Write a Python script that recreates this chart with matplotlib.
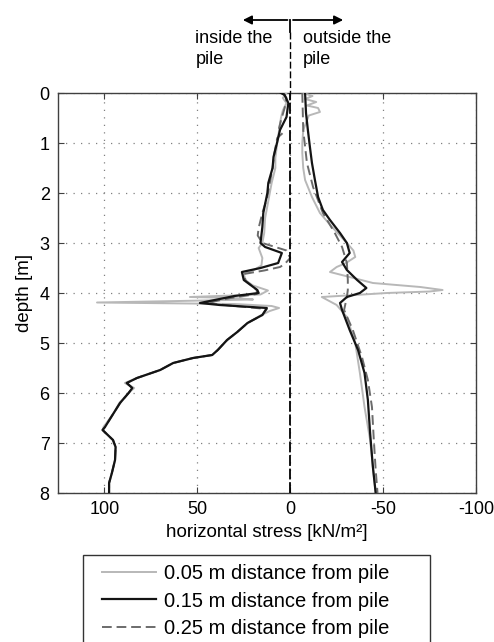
import numpy as np
import matplotlib.pyplot as plt
from matplotlib.patches import Rectangle

plt.rcParams['font.family'] = ['Liberation Sans', 'DejaVu Sans']
plt.rcParams['axes.unicode_minus'] = False

# ---- data (depth [m], horizontal stress [kN/m2]) ----
# 0.05 m distance from pile
d05_in = [0.0, 0.1, 0.2, 0.35, 0.5, 0.75, 1.0, 1.3, 1.5, 1.8, 2.0, 2.3, 2.5, 2.8, 3.0, 3.1, 3.2,
          3.3, 3.45, 3.55, 3.62, 3.75, 3.85, 3.95, 4.03, 4.08, 4.1, 4.13, 4.16, 4.19, 4.22, 4.26,
          4.3, 4.36, 4.45, 4.6, 4.78, 4.94, 5.14, 5.24, 5.3, 5.4, 5.54, 5.7, 5.8, 5.9, 6.0, 6.2,
          6.4, 6.68, 6.74, 6.94, 7.08, 7.34, 7.6, 7.8, 8.0]
s05_in = [2, 4, 2, 4, 5, 6, 7, 8, 8, 10, 11, 12.5, 13.5, 14, 15, 17, 16, 15, 15.5, 20, 25, 24,
          20, 12, 16, 54, 30, 20, 60, 104, 30, 10, 6, 11, 16, 23, 28.5, 34, 39, 42, 52.3, 63, 70,
          82.5, 89, 84, 87, 92, 95, 100.5, 101, 95.4, 94, 94.3, 96, 97.5, 97.5]
d05_out = [0.0, 0.06, 0.12, 0.18, 0.25, 0.3, 0.38, 0.45, 0.55, 0.74, 1.0, 1.2, 1.5, 1.74, 2.08,
           2.4, 2.68, 3.0, 3.15, 3.28, 3.4, 3.48, 3.58, 3.68, 3.8, 3.88, 3.94, 3.97, 4.0, 4.04,
           4.08, 4.14, 4.24, 4.48, 5.0, 5.6, 6.28, 6.94, 7.48, 8.0]
s05_out = [-7, -12, -8, -14, -9, -15, -16, -10, -9, -7, -6.5, -6.5, -7, -8, -11.7, -16, -22.5,
           -30.5, -34, -35, -30, -25, -21.4, -32, -44.5, -70, -82, -75, -52, -35, -17, -20, -25,
           -30.5, -35, -37.5, -40, -43, -44.5, -46]

# 0.15 m distance from pile
d15_in = [0.0, 0.04, 0.2, 0.48, 0.74, 0.98, 1.28, 1.5, 1.8, 2.0, 2.4, 2.68, 3.0, 3.08, 3.2, 3.4,
          3.5, 3.58, 3.74, 3.94, 4.0, 4.06, 4.12, 4.2, 4.24, 4.3, 4.44, 4.6, 4.78, 4.94, 5.14,
          5.24, 5.3, 5.4, 5.54, 5.7, 5.8, 5.9, 6.0, 6.2, 6.4, 6.68, 6.74, 6.94, 7.08, 7.34, 7.6,
          7.8, 8.0]
s15_in = [5, 3, 1, 2, 5.5, 7, 9, 9.5, 11.8, 12.3, 14.5, 15, 16, 13.5, 4.5, 6.5, 16, 26, 25, 17.7,
          17, 30, 38, 48.6, 38, 12.6, 15, 23, 28.5, 34, 39, 42, 52.3, 63, 70, 82.5, 88, 85, 87,
          91.6, 95, 99.7, 101, 95.4, 94, 94.3, 96, 97.5, 97.5]
d15_out = [0.0, 0.4, 0.74, 1.08, 1.4, 1.74, 2.08, 2.34, 2.54, 2.8, 3.0, 3.2, 3.38, 3.54, 3.74,
           3.9, 4.0, 4.08, 4.2, 4.34, 4.74, 5.14, 5.6, 6.14, 6.8, 7.48, 8.0]
s15_out = [-8, -8.5, -9.5, -10.6, -11.7, -13.3, -15, -17.6, -21.4, -26.8, -30.5, -32, -27.9,
           -30.5, -36, -41, -37.5, -30.5, -26.8, -27.9, -32, -36.5, -40, -41.8, -43, -44.5, -46]

# 0.25 m distance from pile
d25_in = [0.0, 0.1, 0.3, 0.55, 0.7, 0.8, 0.9, 1.2, 1.5, 1.8, 2.1, 2.4, 2.7, 2.85, 3.0, 3.15,
          3.3, 3.42, 3.48, 3.55, 3.62, 3.75, 3.94, 4.02, 4.1, 4.2, 4.26, 4.32, 4.44, 4.6, 4.78,
          4.94, 5.14, 5.24, 5.3, 5.4, 5.54, 5.7, 5.8, 5.9, 6.0, 6.2, 6.4, 6.68, 6.74, 6.94, 7.08,
          7.34, 7.6, 7.8, 8.0]
s25_in = [4, 2, 3, 5, 6, 4, 7, 8.5, 9.5, 11, 12.5, 15, 17, 17.5, 15, 2, 0, 3, 5.5, 14, 25, 24,
          18, 18, 32, 45, 30, 12.6, 15, 23, 28.5, 34, 39, 42, 52.3, 63, 70, 82.5, 88, 85, 87,
          91.6, 95, 99.7, 101, 95.4, 94, 94.3, 96, 97.5, 97.5]
d25_out = [0.0, 0.74, 1.4, 1.88, 2.4, 2.8, 3.08, 3.4, 3.74, 3.94, 4.08, 4.34, 4.74, 5.28, 5.74,
           6.28, 6.94, 7.54, 8.0]
s25_out = [-6.5, -7, -9, -12.3, -17.6, -24, -27.9, -30.5, -31, -31, -30.5, -29, -33.7, -38.6,
           -41.8, -44, -45, -46, -47]

labels = ['0.05 m distance from pile', '0.15 m distance from pile', '0.25 m distance from pile']
xticks = [100, 50, 0, -50, -100]
yticks = [0, 1, 2, 3, 4, 5, 6, 7, 8]

fig = plt.figure(figsize=(4.94, 6.42), dpi=100)
ax = fig.add_axes([58 / 494, 1 - 493 / 642, 418 / 494, 400 / 642])

c05, c15, c25 = '0.72', '0.08', '0.42'
l1, = ax.plot(s05_in, d05_in, color=c05, lw=1.4, zorder=3)
ax.plot(s05_out, d05_out, color=c05, lw=1.4, zorder=3)
l2, = ax.plot(s15_in, d15_in, color=c15, lw=1.6, zorder=4)
ax.plot(s15_out, d15_out, color=c15, lw=1.6, zorder=4)
l3, = ax.plot(s25_in, d25_in, color=c25, lw=1.4, ls=(0, (5, 2.5)), zorder=3)
ax.plot(s25_out, d25_out, color=c25, lw=1.4, ls=(0, (5, 2.5)), zorder=3)

# pile wall line
ax.axvline(0, color='black', lw=1.3, ls=(0, (6, 1.5)), zorder=5)

ax.set_xlim(125, -100)
ax.set_ylim(8, 0)
ax.set_xticks(xticks)
ax.set_yticks(yticks)
ax.grid(True, ls=(0, (1, 5)), color='0.5', lw=0.9)
ax.tick_params(direction='in', length=4, top=True, right=True, labelsize=13, pad=6,
               color='0.25')
for sp in ax.spines.values():
    sp.set_color('0.25')
    sp.set_linewidth(1.0)
ax.set_xlabel('horizontal stress [kN/m²]', fontsize=13.5, labelpad=4)
ax.set_ylabel('depth [m]', fontsize=13.5, labelpad=5)

# arrows above the plot
ya = 1 + 73 / 400
trans = ax.get_xaxis_transform()
ax.annotate('', xy=(27, ya), xytext=(0, ya), xycoords=trans, textcoords=trans,
            arrowprops=dict(arrowstyle='-|>', color='black', lw=1.3, mutation_scale=13))
ax.annotate('', xy=(-30, ya), xytext=(0, ya), xycoords=trans, textcoords=trans,
            arrowprops=dict(arrowstyle='-|>', color='black', lw=1.3, mutation_scale=13))
ax.plot([0, 0], [ya, ya - 0.03], color='black', lw=1.3, transform=trans, clip_on=False)
ax.plot([0, 0], [ya - 0.03, 1.0], color='black', lw=1.0, ls=(0, (5, 2)),
        transform=trans, clip_on=False)
ax.text(51, 1 + 63 / 400, 'inside the\npile', transform=trans, ha='left', va='top',
        fontsize=13, linespacing=1.3)
ax.text(-7, 1 + 63 / 400, 'outside the\npile', transform=trans, ha='left', va='top',
        fontsize=13, linespacing=1.3)

# legend (frame drawn separately, it runs past the bottom of the figure)
leg = fig.legend([l1, l2, l3], labels, loc='upper left',
                 bbox_to_anchor=(93 / 494, 1 - 555 / 642), fontsize=14.5, frameon=False,
                 handlelength=2.7, labelspacing=0.42, borderpad=0.45, handletextpad=0.4,
                 borderaxespad=0)
fig.patches.append(Rectangle((83 / 494, -10 / 642), 347 / 494, 97 / 642,
                             transform=fig.transFigure, fill=False, edgecolor='0.2', lw=1.0))

fig.savefig('out.png', dpi=100)
